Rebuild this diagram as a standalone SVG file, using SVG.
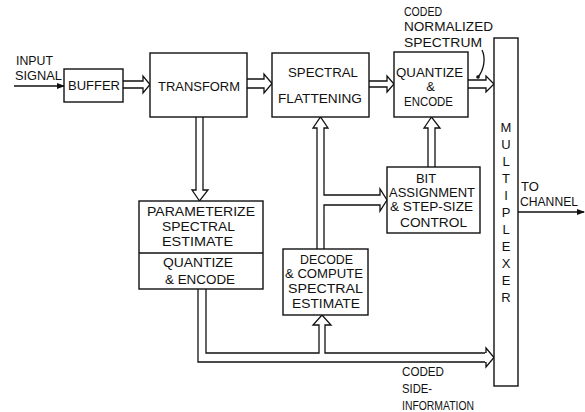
<svg xmlns="http://www.w3.org/2000/svg" width="585" height="412" viewBox="0 0 585 412">
<defs>
<style>
.box{fill:#fff;stroke:#111;stroke-width:1.4}
.pipe{fill:#fff;stroke:#111;stroke-width:1.3;stroke-linejoin:miter}
.ln{fill:none;stroke:#111;stroke-width:1.3}
text{font-family:"Liberation Sans",Arial,sans-serif;font-size:13px;fill:#111}
.c{text-anchor:middle}
</style>
<marker id="ah" markerWidth="8" markerHeight="6" refX="7" refY="3" orient="auto" markerUnits="userSpaceOnUse">
<path d="M0,0 L8,3 L0,6 Z" fill="#111"/>
</marker>
</defs>
<rect width="585" height="412" fill="#fff"/>

<g id="connectors">
<line class="ln" x1="14" y1="86" x2="64" y2="86" marker-end="url(#ah)"/>
<path class="pipe" d="M123,81 H143 V76 L150,84.5 L143,93 V88 H123"/>
<path class="pipe" d="M247,79 H264 V74 L272,83.5 L264,93 V88 H247"/>
<path class="pipe" d="M369,81 H387 V76 L394,84 L387,92 V87 H369"/>
<path class="pipe" d="M468,80 H486 V76 L494,84 L486,92 V88 H468"/>
<path class="pipe" d="M196,117 V190 H192 L199.5,201 L208,190 H203 V117"/>
<path class="ln" d="M198,289 V362 H486"/>
<path class="ln" d="M206,289 V353 H319 V325 H313 L322,315 L331,325 H325 V353 H486"/>
<path class="pipe" d="M486,348 L494,357.5 L486,367 Z"/>
<line x1="486" y1="353" x2="486" y2="362" stroke="#fff" stroke-width="2"/>
<path class="ln" d="M317,249 V128 H313 L320.5,117 L328,128 H324 V195 H380 V189 L387,200 L380,211 V205 H324 V249"/>
<path class="pipe" d="M428,167 V128 H424 L431.5,117 L440,128 H435 V167"/>
<line class="ln" x1="518" y1="212" x2="584" y2="212" marker-end="url(#ah)"/>
<path class="ln" d="M482,50 C486,58 484,70 478,77" stroke-width="1"/>
<circle cx="478" cy="77" r="1.8" fill="#111"/>
</g>

<g id="buffer">
<rect class="box" x="64" y="69" width="59" height="33"/>
<text x="68" y="90" textLength="52" lengthAdjust="spacingAndGlyphs">BUFFER</text>
</g>

<g id="transform">
<rect class="box" x="150" y="53" width="97" height="64"/>
<text x="158" y="91" textLength="82" lengthAdjust="spacingAndGlyphs">TRANSFORM</text>
</g>

<g id="spectral-flattening">
<rect class="box" x="272" y="53" width="97" height="64"/>
<text x="288" y="77" textLength="70" lengthAdjust="spacingAndGlyphs">SPECTRAL</text>
<text x="278" y="103" textLength="84" lengthAdjust="spacingAndGlyphs">FLATTENING</text>
</g>

<g id="quantize-encode">
<rect class="box" x="394" y="52" width="74" height="65"/>
<text x="396" y="77" textLength="67" lengthAdjust="spacingAndGlyphs">QUANTIZE</text>
<text x="430.5" y="91" class="c">&amp;</text>
<text x="404" y="106" textLength="49" lengthAdjust="spacingAndGlyphs">ENCODE</text>
</g>

<g id="multiplexer">
<rect class="box" x="494" y="38" width="24" height="348"/>
<text class="c" x="506" y="132">M</text>
<text class="c" x="506" y="149">U</text>
<text class="c" x="506" y="166">L</text>
<text class="c" x="506" y="183">T</text>
<text class="c" x="506" y="200">I</text>
<text class="c" x="506" y="217">P</text>
<text class="c" x="506" y="234">L</text>
<text class="c" x="506" y="251">E</text>
<text class="c" x="506" y="268">X</text>
<text class="c" x="506" y="285">E</text>
<text class="c" x="506" y="302">R</text>
</g>

<g id="parameterize">
<rect class="box" x="139" y="201" width="124" height="88"/>
<line class="ln" x1="139" y1="253" x2="263" y2="253"/>
<text x="147" y="216" textLength="108" lengthAdjust="spacingAndGlyphs">PARAMETERIZE</text>
<text x="162" y="231" textLength="73" lengthAdjust="spacingAndGlyphs">SPECTRAL</text>
<text x="162" y="246" textLength="71" lengthAdjust="spacingAndGlyphs">ESTIMATE</text>
<text x="163" y="267" textLength="70" lengthAdjust="spacingAndGlyphs">QUANTIZE</text>
<text x="165" y="284" textLength="70" lengthAdjust="spacingAndGlyphs">&amp; ENCODE</text>
</g>

<g id="decode-compute">
<rect class="box" x="283" y="249" width="85" height="66"/>
<text x="300" y="264" textLength="53" lengthAdjust="spacingAndGlyphs">DECODE</text>
<text x="285" y="278" textLength="78" lengthAdjust="spacingAndGlyphs">&amp; COMPUTE</text>
<text x="288" y="293" textLength="75" lengthAdjust="spacingAndGlyphs">SPECTRAL</text>
<text x="292" y="308" textLength="68" lengthAdjust="spacingAndGlyphs">ESTIMATE</text>
</g>

<g id="bit-assignment">
<rect class="box" x="387" y="167" width="93" height="66"/>
<text x="426" y="183" class="c">BIT</text>
<text x="389" y="197" textLength="86" lengthAdjust="spacingAndGlyphs">ASSIGNMENT</text>
<text x="390" y="211" textLength="83" lengthAdjust="spacingAndGlyphs">&amp; STEP-SIZE</text>
<text x="400" y="227" textLength="67" lengthAdjust="spacingAndGlyphs">CONTROL</text>
</g>

<g id="labels">
<text x="16" y="65" textLength="37" lengthAdjust="spacingAndGlyphs">INPUT</text>
<text x="15" y="80" textLength="47" lengthAdjust="spacingAndGlyphs">SIGNAL</text>
<text x="404" y="16" textLength="38" lengthAdjust="spacingAndGlyphs">CODED</text>
<text x="404" y="31" textLength="89" lengthAdjust="spacingAndGlyphs">NORMALIZED</text>
<text x="404" y="47" textLength="78" lengthAdjust="spacingAndGlyphs">SPECTRUM</text>
<text x="521" y="191">TO</text>
<text x="520" y="206" textLength="58" lengthAdjust="spacingAndGlyphs">CHANNEL</text>
<text x="402" y="376" textLength="42" lengthAdjust="spacingAndGlyphs">CODED</text>
<text x="402" y="393" textLength="30" lengthAdjust="spacingAndGlyphs">SIDE-</text>
<text x="402" y="410" textLength="72" lengthAdjust="spacingAndGlyphs">INFORMATION</text>
</g>
</svg>
